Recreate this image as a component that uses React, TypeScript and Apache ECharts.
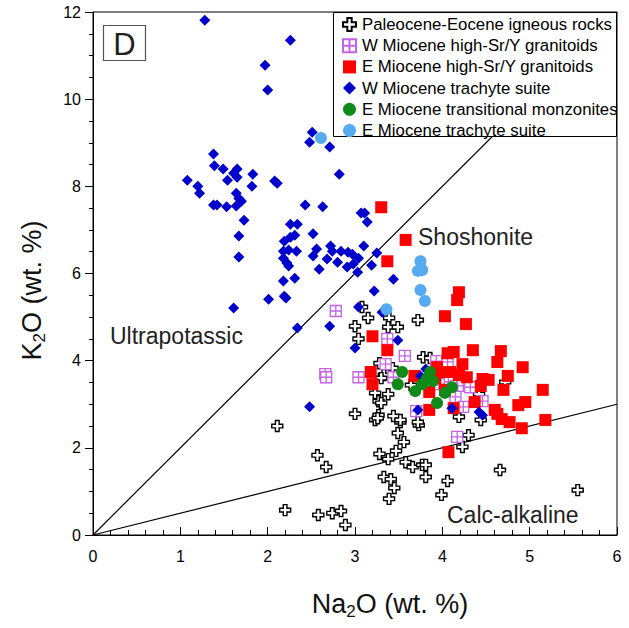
import React, { useEffect, useRef } from "react";
import * as echarts from "echarts";

// [Na2O, K2O] pairs, wt. %
const paleoceneEocene: number[][] = [
  [2.11, 2.5], [2.57, 1.83], [2.67, 1.56], [2.2, 0.57], [2.58, 0.46], [2.74, 0.5], [2.84, 0.55], [2.89, 0.23],
  [3.28, 1.86], [3.38, 1.74], [3.47, 1.93], [3.56, 2.13], [3.49, 2.34], [3.52, 2.59], [3.23, 2.64], [3.73, 2.52],
  [3.58, 1.67], [3.66, 1.56], [3.77, 1.61], [3.81, 1.61], [3.81, 1.33], [3.33, 1.33], [3.41, 1.28], [3.45, 1.08],
  [3.39, 0.83], [4.06, 1.24], [3.99, 0.92], [3.08, 5.23], [3.15, 4.98], [3.39, 4.98], [3.38, 4.77], [3.49, 4.77],
  [3.72, 4.93], [3.0, 4.79], [3.04, 4.5], [3.78, 4.08], [3.86, 4.06], [3.28, 3.94], [3.37, 3.83], [3.43, 3.83],
  [3.33, 3.67], [3.3, 3.6], [3.64, 3.44], [3.23, 3.26], [3.38, 3.23], [3.27, 3.07], [3.3, 3.03], [3.0, 2.78],
  [3.27, 2.75], [3.44, 2.73], [3.52, 2.64], [3.72, 2.59], [4.72, 3.51], [4.42, 3.23], [4.19, 2.71], [4.44, 2.64],
  [4.3, 2.29], [4.23, 2.02], [4.66, 1.49], [5.55, 1.03], [3.26, 2.68],
];

const wMioceneSrY: number[][] = [
  [2.78, 5.14], [2.66, 3.69], [2.67, 3.62], [3.04, 3.62], [3.37, 4.5], [3.57, 4.11], [3.35, 3.92], [3.44, 3.62],
  [3.7, 2.84], [3.93, 3.99], [4.06, 3.97], [3.98, 3.58], [4.07, 3.51], [4.16, 3.42], [4.24, 3.42], [4.32, 3.39],
  [4.15, 3.17], [4.24, 2.94], [4.46, 3.07], [4.17, 2.25], [3.96, 3.46],
];

const eMioceneSrY: number[][] = [
  [3.3, 7.52], [3.58, 6.77], [3.37, 6.28], [4.19, 5.57], [4.17, 5.39], [4.03, 5.02], [4.27, 4.84], [3.2, 4.56],
  [3.37, 4.24], [3.18, 3.74], [3.2, 3.46], [3.68, 3.65], [3.85, 3.28], [3.94, 3.85], [3.98, 3.74], [3.92, 3.6],
  [4.03, 3.33], [4.06, 4.17], [3.85, 2.87], [4.13, 4.2], [4.35, 4.24], [4.67, 4.22], [4.63, 3.97], [4.92, 3.85],
  [4.23, 3.92], [4.09, 3.74], [4.19, 3.67], [4.28, 3.62], [4.46, 3.58], [4.53, 3.56], [4.75, 3.65], [4.44, 3.42],
  [4.7, 3.33], [5.15, 3.33], [4.37, 3.05], [4.87, 2.98], [4.95, 3.05], [4.6, 2.87], [4.63, 2.78], [4.68, 2.66],
  [4.77, 2.59], [4.91, 2.45], [5.18, 2.64], [4.07, 1.9], [4.13, 2.91],
];

const wMioceneTrachyte: number[][] = [
  [1.28, 11.81], [2.26, 11.35], [1.97, 10.78], [2.0, 10.21], [2.51, 9.24], [2.48, 9.01], [2.71, 8.9], [1.38, 8.74],
  [1.39, 8.47], [1.49, 8.4], [1.65, 8.4], [1.61, 8.3], [1.54, 8.14], [1.65, 8.21], [1.83, 8.28], [1.08, 8.14],
  [1.2, 8.0], [1.22, 7.84], [1.82, 8.0], [2.08, 8.12], [2.11, 8.07], [2.82, 8.28], [1.64, 7.84], [1.67, 7.72],
  [1.7, 7.66], [1.38, 7.57], [1.42, 7.57], [1.53, 7.53], [1.64, 7.55], [2.43, 7.57], [2.63, 7.53], [1.73, 7.22],
  [1.67, 6.86], [2.26, 7.13], [2.34, 7.13], [2.31, 6.88], [2.26, 6.83], [2.52, 6.91], [2.19, 6.74], [1.67, 6.38],
  [2.18, 6.51], [2.24, 6.54], [2.33, 6.51], [2.56, 6.56], [2.72, 6.63], [2.74, 6.51], [2.84, 6.51], [2.92, 6.49],
  [2.97, 6.44], [3.04, 6.35], [1.61, 5.21], [2.18, 6.35], [2.22, 6.24], [2.24, 6.17], [2.52, 6.4], [2.68, 6.33],
  [2.8, 6.26], [2.91, 6.15], [2.98, 6.22], [2.59, 6.1], [2.18, 5.83], [2.31, 5.89], [2.01, 5.41], [2.19, 5.48],
  [2.21, 5.44], [2.34, 4.75], [2.71, 4.79], [3.07, 7.39], [3.11, 7.39], [3.14, 7.18], [3.1, 6.63], [3.25, 6.47],
  [3.19, 6.19], [3.03, 6.03], [3.44, 5.87], [3.22, 5.6], [3.04, 5.23], [3.31, 5.11], [3.49, 4.47], [3.0, 4.29],
  [2.48, 2.94], [3.75, 3.65], [3.81, 3.81], [3.72, 2.87], [4.11, 2.91], [4.42, 2.82], [4.46, 2.75],
];

const eMioceneMonzonite: number[][] = [
  [3.54, 3.74], [3.49, 3.46], [3.69, 3.3], [3.77, 3.46], [3.82, 3.58], [3.86, 3.74], [3.89, 3.53], [3.94, 3.03],
  [4.03, 3.26], [4.11, 3.39],
];

const eMioceneTrachyte: number[][] = [
  [2.61, 9.11], [3.75, 6.28], [3.72, 6.06], [3.77, 6.08], [3.75, 5.62], [3.8, 5.37], [3.36, 5.18],
];

// reference lines K2O = 2 Na2O and K2O = 0.5 Na2O
const ultrapotassicLine: number[][] = [[0, 0], [6, 12]];
const calcAlkalineLine: number[][] = [[0, 0], [6, 3]];

const seriesNames = [
  "Paleocene-Eocene igneous rocks",
  "W Miocene high-Sr/Y granitoids",
  "E Miocene high-Sr/Y granitoids",
  "W Miocene trachyte suite",
  "E Miocene transitional monzonites",
  "E Miocene trachyte suite",
];

const FONT = "'Liberation Sans', Arial, sans-serif";
const PLUS = "path://M4,0H8V4H12V8H8V12H4V8H0V4H4Z";
const GRIDSQ = "path://M0,0H12V12H0ZM6,0V12M0,6H12";

const nameRich = {
  n: { fontSize: 27, color: "#111", fontFamily: FONT },
  s: { fontSize: 17, color: "#111", fontFamily: FONT, padding: [16, 0, 0, 0] },
};

export default function App() {
  const ref = useRef<HTMLDivElement>(null);
  useEffect(() => {
    if (!ref.current) return;
    const chart = echarts.init(ref.current, undefined, { renderer: "svg" });
    const lineSeries = (data: number[][]) => ({
      type: "line",
      data,
      symbol: "none",
      silent: true,
      lineStyle: { color: "#000", width: 1.2 },
      z: 1,
      legendHoverLink: false,
    });
    chart.setOption({
      animation: false,
      textStyle: { fontFamily: FONT },
      grid: { left: 93, right: 12, top: 12, bottom: 93, show: true, borderColor: "#000", borderWidth: 1 },
      xAxis: {
        type: "value",
        min: 0,
        max: 6,
        interval: 1,
        splitLine: { show: false },
        axisLine: { lineStyle: { color: "#000", width: 1 } },
        axisTick: { inside: true, length: 8, lineStyle: { color: "#000" } },
        minorTick: { show: true, splitNumber: 5, length: 5, lineStyle: { color: "#000" } },
        axisLabel: { color: "#000", fontSize: 16, margin: 13, fontFamily: FONT },
        name: "{n|Na}{s|2}{n|O (wt. %)}",
        nameLocation: "middle",
        nameGap: 52,
        nameTextStyle: { rich: nameRich, padding: [0, 0, 0, 70] },
      },
      yAxis: {
        type: "value",
        min: 0,
        max: 12,
        interval: 2,
        splitLine: { show: false },
        axisLine: { lineStyle: { color: "#000", width: 1 } },
        axisTick: { inside: false, length: 8, lineStyle: { color: "#000" } },
        minorTick: { show: true, splitNumber: 4, length: 4, lineStyle: { color: "#000" } },
        axisLabel: { color: "#000", fontSize: 16, margin: 12, fontFamily: FONT },
        name: "{n|K}{s|2}{n|O (wt. %)}",
        nameLocation: "middle",
        nameGap: 45,
        nameTextStyle: { rich: nameRich, padding: [0, 34, 0, 0] },
      },
      legend: {
        orient: "vertical",
        left: 337,
        top: 11,
        itemWidth: 13,
        itemHeight: 13,
        itemGap: 4.2,
        z: 200,
        selectedMode: false,
        textStyle: { fontSize: 16.8, color: "#000", fontFamily: FONT, padding: [0, 0, 0, 1] },
        data: seriesNames,
      },
      graphic: [
        {
          type: "rect",
          z: 100,
          shape: { x: 333.5, y: 12.5, width: 283, height: 124 },
          style: { fill: "#fff", stroke: "#000", lineWidth: 1 },
        },
        {
          type: "rect",
          z: 100,
          shape: { x: 103.5, y: 25.5, width: 42, height: 35 },
          style: { fill: "#fff", stroke: "#555", lineWidth: 1.2 },
        },
        {
          type: "text",
          z: 101,
          x: 124.5,
          y: 44,
          style: { text: "D", font: `31px ${FONT}`, fill: "#222", align: "center", verticalAlign: "middle" },
        },
        {
          type: "text",
          z: 101,
          x: 110,
          y: 336,
          style: { text: "Ultrapotassic", font: `23px ${FONT}`, fill: "#222", verticalAlign: "middle" },
        },
        {
          type: "text",
          z: 101,
          x: 418,
          y: 237,
          style: { text: "Shoshonite", font: `23px ${FONT}`, fill: "#222", verticalAlign: "middle" },
        },
        {
          type: "text",
          z: 101,
          x: 447,
          y: 515,
          style: { text: "Calc-alkaline", font: `23px ${FONT}`, fill: "#222", verticalAlign: "middle" },
        },
      ],
      series: [
        lineSeries(ultrapotassicLine),
        lineSeries(calcAlkalineLine),
        {
          name: seriesNames[0],
          type: "scatter",
          data: paleoceneEocene,
          symbol: PLUS,
          symbolSize: 11,
          itemStyle: { color: "#fff", borderColor: "#000", borderWidth: 1.4, opacity: 1 },
          z: 2,
        },
        {
          name: seriesNames[1],
          type: "scatter",
          data: wMioceneSrY,
          symbol: GRIDSQ,
          symbolSize: 11,
          itemStyle: { color: "#fff", borderColor: "#c463e6", borderWidth: 1.3, opacity: 1 },
          z: 3,
        },
        {
          name: seriesNames[2],
          type: "scatter",
          data: eMioceneSrY,
          symbol: "rect",
          symbolSize: 12,
          itemStyle: { color: "#ff0000", opacity: 1 },
          z: 4,
        },
        {
          name: seriesNames[3],
          type: "scatter",
          data: wMioceneTrachyte,
          symbol: "diamond",
          symbolSize: 11,
          itemStyle: { color: "#0000cc", opacity: 1 },
          z: 5,
        },
        {
          name: seriesNames[4],
          type: "scatter",
          data: eMioceneMonzonite,
          symbol: "circle",
          symbolSize: 12,
          itemStyle: { color: "#108a18", opacity: 1 },
          z: 6,
        },
        {
          name: seriesNames[5],
          type: "scatter",
          data: eMioceneTrachyte,
          symbol: "circle",
          symbolSize: 12,
          itemStyle: { color: "#55aaf2", opacity: 1 },
          z: 7,
        },
      ],
    });
    return () => chart.dispose();
  }, []);
  return (
    <div
      ref={ref}
      style={{ position: "fixed", left: 0, top: 0, width: 629, height: 628, background: "#fff" }}
    />
  );
}
